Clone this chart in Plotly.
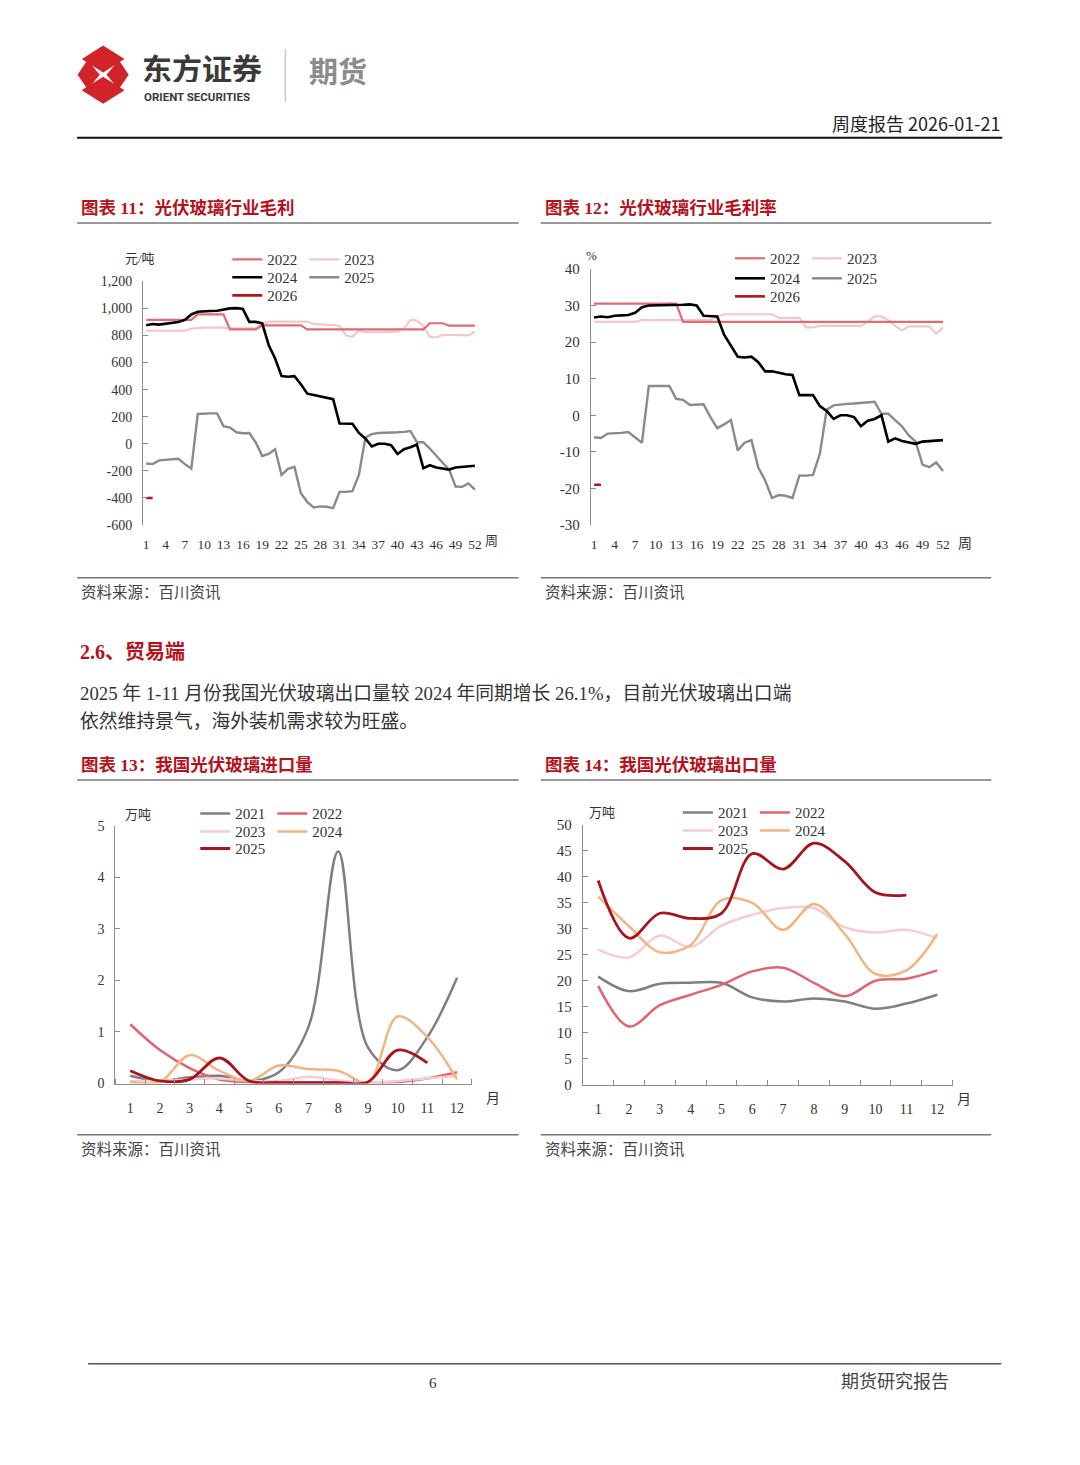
import plotly.graph_objects as go

W, H = 1080, 1465
# small calibration of the page capture (measured from a test render)
SX, OY, SY = 0.995, 9.0, 0.987
def X(px): return (px / SX) / W
def Y(py): return 1 - ((py - OY) / SY) / H

SERIF = "Liberation Serif, Noto Sans CJK SC, serif"
CJK = "Noto Sans CJK SC, sans-serif"
RED_TITLE = "#B5121B"

# ---------------- data ----------------
weeks = list(range(1, 53))
week_ticks = [1, 4, 7, 10, 13, 16, 19, 22, 25, 28, 31, 34, 37, 40, 43, 46, 49, 52]
week_ticktext = [str(w) for w in week_ticks]
months = list(range(1, 13))
month_ticktext = [str(m) for m in months]

# Chart 11: gross profit (yuan/ton)
gp_2022 = [915, 915, 915, 915, 915, 915, 915, 915, 955, 955,
           955, 955, 955, 845, 845, 845, 845, 845, 875, 875,
           875, 875, 875, 875, 875, 845, 845, 845, 845, 845,
           845, 845, 845, 845, 845, 845, 845, 845, 845, 845,
           845, 845, 845, 845, 890, 890, 890, 872, 872, 872,
           872, 872]
gp_2023 = [835, 835, 835, 835, 835, 835, 835, 850, 855, 858,
           858, 858, 858, 852, 852, 852, 852, 855, 885, 902,
           902, 902, 902, 902, 902, 902, 885, 880, 878, 878,
           870, 800, 790, 835, 825, 825, 825, 825, 825, 828,
           850, 915, 910, 870, 790, 785, 805, 805, 805, 805,
           800, 828]
gp_2024 = [875, 885, 880, 885, 895, 900, 915, 955, 975, 980,
           980, 982, 990, 1000, 1002, 995, 900, 900, 890, 730,
           630, 500, 495, 500, 440, 370, 360, 350, 340, 330,
           150, 150, 148, 80, 40, -20, 0, 0, -10, -75,
           -40, -25, -5, -180, -158, -175, -185, -190, -175, -172,
           -168, -162]
gp_2025 = [-145, -150, -122, -118, -115, -110, -150, -183, 220, 225,
           225, 225, 130, 120, 85, 78, 80, 10, -90, -75,
           -40, -230, -185, -170, -365, -430, -470, -462, -465, -475,
           -355, -355, -350, -230, 45, 72, 80, 82, 82, 85,
           88, 95, 12, 12, -35, -90, -140, -190, -315, -318,
           -292, -338]
gp_2026 = [-400, -400]
gp_yticks = [-600, -400, -200, 0, 200, 400, 600, 800, 1000, 1200]
gp_yticktext = ["-600", "-400", "-200", "0", "200", "400", "600", "800", "1,000", "1,200"]

# Chart 12: gross margin (%)
gm_2022 = [30.5, 30.5, 30.5, 30.5, 30.5, 30.5, 30.5, 30.5, 30.5, 30.5,
           30.5, 30.5, 30.5, 25.5, 25.5, 25.5, 25.5, 25.5, 25.5, 25.5,
           25.5, 25.5, 25.5, 25.5, 25.5, 25.5, 25.5, 25.5, 25.5, 25.5,
           25.5, 25.5, 25.5, 25.5, 25.5, 25.5, 25.5, 25.5, 25.5, 25.5,
           25.5, 25.5, 25.5, 25.5, 25.5, 25.5, 25.5, 25.5, 25.5, 25.5,
           25.5, 25.5]
gm_2023 = [25.5, 25.5, 25.5, 25.5, 25.5, 25.5, 25.5, 26.0, 26.0, 26.0,
           26.0, 26.0, 26.0, 26.0, 26.0, 26.0, 26.0, 26.0, 27.0, 27.6,
           27.6, 27.6, 27.6, 27.6, 27.6, 27.6, 27.6, 26.6, 26.6, 26.6,
           26.6, 24.0, 24.0, 24.4, 24.4, 24.4, 24.4, 24.4, 24.4, 24.4,
           25.5, 27.0, 27.0, 26.0, 24.5, 23.2, 24.3, 24.3, 24.3, 24.3,
           22.3, 24.0]
gm_2024 = [26.7, 27.0, 26.8, 27.2, 27.3, 27.4, 28.0, 29.5, 30.0, 30.0,
           30.0, 30.0, 30.2, 30.2, 30.3, 30.0, 27.2, 27.2, 27.0, 22.0,
           19.0, 16.0, 15.8, 16.0, 14.5, 12.0, 12.0, 11.5, 11.2, 11.0,
           5.5, 5.5, 5.5, 2.5, 1.2, -1.0, 0.0, 0.0, -0.5, -3.0,
           -1.5, -1.0, 0.0, -7.2, -6.3, -7.0, -7.5, -7.8, -7.2, -7.1,
           -7.0, -6.8]
gm_2025 = [-6.0, -6.2, -5.0, -5.0, -4.8, -4.6, -6.0, -7.5, 8.0, 8.0,
           8.0, 8.0, 4.5, 4.2, 2.8, 3.0, 3.0, -0.5, -3.5, -2.5,
           -1.3, -9.6, -7.5, -6.8, -14.3, -17.8, -22.6, -21.8, -22.0, -22.6,
           -16.5, -16.5, -16.3, -10.5, 1.5, 2.7, 3.0, 3.1, 3.2, 3.3,
           3.5, 3.7, 0.4, 0.4, -1.3, -3.0, -5.5, -7.2, -13.5, -14.2,
           -12.9, -15.2]
gm_2026 = [-19.0, -19.0]
gm_yticks = [-30, -20, -10, 0, 10, 20, 30, 40]
gm_yticktext = ["-30", "-20", "-10", "0", "10", "20", "30", "40"]

# Chart 13: imports (10k tons)
imp_2021 = [0.15, 0.05, 0.12, 0.15, 0.05, 0.22, 1.10, 4.50, 0.70, 0.26, 0.90, 2.05]
imp_2022 = [1.15, 0.65, 0.30, 0.08, 0.03, 0.02, 0.02, 0.02, 0.02, 0.03, 0.10, 0.22]
imp_2023 = [0.05, 0.05, 0.08, 0.10, 0.05, 0.05, 0.13, 0.06, 0.02, 0.05, 0.10, 0.15]
imp_2024 = [0.03, 0.03, 0.55, 0.25, 0.05, 0.35, 0.28, 0.25, 0.03, 1.30, 0.90, 0.08]
imp_2025 = [0.25, 0.05, 0.08, 0.50, 0.05, 0.02, 0.02, 0.02, 0.03, 0.65, 0.40]
imp_yticks = [0, 1, 2, 3, 4, 5]

# Chart 14: exports (10k tons)
exp_2021 = [20.8, 18.0, 19.4, 19.6, 19.6, 16.8, 16.0, 16.6, 16.0, 14.6, 15.6, 17.3]
exp_2022 = [19.0, 11.2, 15.3, 17.3, 19.2, 21.8, 22.5, 19.6, 17.0, 20.0, 20.4, 22.0]
exp_2023 = [26.0, 24.5, 28.7, 26.5, 30.6, 32.7, 34.0, 34.0, 30.3, 29.3, 29.8, 28.2]
exp_2024 = [36.2, 30.5, 25.5, 26.9, 35.5, 35.0, 29.8, 34.8, 29.0, 21.3, 22.0, 29.0]
exp_2025 = [39.3, 28.2, 33.0, 32.0, 33.0, 44.5, 41.5, 46.5, 43.0, 37.0, 36.5]
exp_yticks = [0, 5, 10, 15, 20, 25, 30, 35, 40, 45, 50]

# ---------------- styles ----------------
C22 = "#E06B74"
C23 = "#F4C6CC"
C24 = "#000000"
C25 = "#8A8A8A"
C26 = "#B5141D"
C21b = "#7F7F7F"
C22b = "#E2646E"
C23b = "#F4CCD2"
C24b = "#F0B583"
C25b = "#A9141C"

fig = go.Figure()

def add(x, y, name, color, width, xa, ya, legend, shape="linear"):
    fig.add_trace(go.Scatter(x=x[:len(y)], y=y, mode="lines", name=name,
                             line=dict(color=color, width=width, shape=shape),
                             xaxis=xa, yaxis=ya, legend=legend, legendrank=int(name),
                             hoverinfo="skip"))

# chart 11
add(weeks, gp_2023, "2023", C23, 2.2, "x", "y", "legend")
add(weeks, gp_2022, "2022", C22, 2.2, "x", "y", "legend")
add(weeks, gp_2025, "2025", C25, 2.4, "x", "y", "legend2")
add(weeks, gp_2024, "2024", C24, 2.6, "x", "y", "legend2")
add(weeks, gp_2026, "2026", C26, 2.6, "x", "y", "legend3")
# chart 12
add(weeks, gm_2023, "2023", C23, 2.2, "x2", "y2", "legend4")
add(weeks, gm_2022, "2022", C22, 2.2, "x2", "y2", "legend4")
add(weeks, gm_2025, "2025", C25, 2.4, "x2", "y2", "legend5")
add(weeks, gm_2024, "2024", C24, 2.6, "x2", "y2", "legend5")
add(weeks, gm_2026, "2026", C26, 2.6, "x2", "y2", "legend6")
# chart 13
add(months, imp_2021, "2021", C21b, 2.5, "x3", "y3", "legend7", "spline")
add(months, imp_2022, "2022", C22b, 2.5, "x3", "y3", "legend7", "spline")
add(months, imp_2023, "2023", C23b, 2.5, "x3", "y3", "legend8", "spline")
add(months, imp_2024, "2024", C24b, 2.5, "x3", "y3", "legend8", "spline")
add(months, imp_2025, "2025", C25b, 2.8, "x3", "y3", "legend9", "spline")
# chart 14
add(months, exp_2021, "2021", C21b, 2.5, "x4", "y4", "legend10", "spline")
add(months, exp_2022, "2022", C22b, 2.5, "x4", "y4", "legend10", "spline")
add(months, exp_2023, "2023", C23b, 2.5, "x4", "y4", "legend11", "spline")
add(months, exp_2024, "2024", C24b, 2.5, "x4", "y4", "legend11", "spline")
add(months, exp_2025, "2025", C25b, 2.8, "x4", "y4", "legend12", "spline")

AX = "#8C8C8C"

def xaxis_bottom(x0, x1, rng, tickvals, ticktext, standoff, anchor, line=False, minor=None, size=14):
    d = dict(domain=[X(x0), X(x1)], range=rng, tickmode="array", tickvals=tickvals,
             ticktext=ticktext, ticks="", showgrid=False, zeroline=False, anchor=anchor,
             showline=line, linecolor=AX, linewidth=1, ticklabelstandoff=standoff,
             tickfont=dict(family=SERIF, size=size, color="#333333"), fixedrange=True)
    if minor is not None:
        d["minor"] = dict(tickmode="array", tickvals=minor, ticks="inside", ticklen=5,
                          tickcolor=AX, tickwidth=1, showgrid=False)
    return d

def yaxis_left(y0, y1, rng, tickvals, ticktext, anchor, size=14):
    return dict(domain=[Y(y1), Y(y0)], range=rng, tickmode="array", tickvals=tickvals,
                ticktext=ticktext, ticks="inside", ticklen=5, tickcolor=AX, tickwidth=1,
                showline=True, linecolor=AX, linewidth=1, showgrid=False, zeroline=False,
                ticklabelstandoff=7, tickfont=dict(family=SERIF, size=size, color="#333333"),
                anchor=anchor, fixedrange=True)

week_bounds = [w + 0.5 for w in range(0, 53)]
month_bounds = [m + 0.5 for m in range(0, 13)]

# plot-area pixel boxes (x0, x1, y_top, y_bottom)
B11 = (142.8, 477.5, 281.7, 525.0)
B12 = (589.9, 945.2, 269.3, 525.0)
B13 = (115.2, 471.3, 825.0, 1082.3)
B14 = (582.0, 951.4, 824.3, 1083.3)

def zero_pos(box, rng):
    y_top, y_bot = Y(box[2]), Y(box[3])
    return y_bot + (0 - rng[0]) / (rng[1] - rng[0]) * (y_top - y_bot)

R11 = [-600, 1200]
R12 = [-30, 40]

def zero_axis(over, box, rng):
    return dict(overlaying=over, anchor="free", position=zero_pos(box, rng), range=[0.5, 52.5],
                tickmode="array", tickvals=week_bounds, ticks="inside", ticklen=6,
                tickcolor="#7A7A7A", tickwidth=1, showline=True, linecolor=AX, linewidth=1,
                showticklabels=False, showgrid=False, zeroline=False, side="bottom",
                fixedrange=True)

layout = dict(
    width=W, height=H, margin=dict(l=0, r=0, t=0, b=0), autosize=False,
    paper_bgcolor="white", plot_bgcolor="rgba(0,0,0,0)",
    font=dict(family=SERIF, color="#333333"),
    xaxis=xaxis_bottom(B11[0], B11[1], [0.5, 52.5], week_ticks, week_ticktext, 9, "y", size=13.5),
    yaxis=yaxis_left(B11[2], B11[3], R11, gp_yticks, gp_yticktext, "x"),
    xaxis2=xaxis_bottom(B12[0], B12[1], [0.5, 52.5], week_ticks, week_ticktext, 9, "y2", size=13.5),
    yaxis2=yaxis_left(B12[2], B12[3], R12, gm_yticks, gm_yticktext, "x2", size=15),
    xaxis3=xaxis_bottom(B13[0], B13[1], [0.5, 12.5], months, month_ticktext, 12, "y3", line=True, minor=month_bounds),
    yaxis3=yaxis_left(B13[2], B13[3], [0, 5], imp_yticks, [str(v) for v in imp_yticks], "x3"),
    xaxis4=xaxis_bottom(B14[0], B14[1], [0.5, 12.5], months, month_ticktext, 12, "y4", line=True, minor=month_bounds),
    yaxis4=yaxis_left(B14[2], B14[3], [0, 50], exp_yticks, [str(v) for v in exp_yticks], "x4", size=15),
    # zero lines with weekly ticks for charts 11 and 12
    xaxis5=zero_axis("x", B11, R11),
    xaxis6=zero_axis("x2", B12, R12),
)

def leg(xpx, ypx):
    return dict(x=X(xpx), y=Y(ypx), xanchor="left", yanchor="middle", orientation="h",
                font=dict(family=SERIF, size=15, color="#333333"), bgcolor="rgba(0,0,0,0)",
                borderwidth=0, entrywidth=32, entrywidthmode="pixels", traceorder="normal",
                itemclick=False, itemdoubleclick=False, tracegroupgap=0)

legend_rows = {
    "legend": (227, 260), "legend2": (227, 278), "legend3": (227, 296),
    "legend4": (729, 259), "legend5": (729, 279), "legend6": (729, 297),
    "legend7": (195, 813), "legend8": (195, 831), "legend9": (195, 848),
    "legend10": (677, 812), "legend11": (677, 830), "legend12": (677, 848),
}
for k, (lx, ly) in legend_rows.items():
    layout[k] = leg(lx, ly)

fig.update_layout(**layout)

# ---------------- page decorations ----------------
shapes = []
annos = []

def hline(x0, x1, y, color, width):
    shapes.append(dict(type="line", xref="paper", yref="paper", x0=X(x0), x1=X(x1),
                       y0=Y(y), y1=Y(y), line=dict(color=color, width=width)))

def text(x, y, s, size, color="#333333", family=CJK, anchor="left", bold=False, height=None):
    if bold:
        s = "<b>" + s + "</b>"
    a = dict(xref="paper", yref="paper", x=X(x), y=Y(y), text=s, showarrow=False,
             xanchor=anchor, yanchor="middle", font=dict(family=family, size=size, color=color))
    if height is not None:
        a["height"] = height
        a["valign"] = "middle"
    annos.append(a)

# logo: four diamonds separated by a white X
LOGO_RED = "#D2232A"
def poly(pts):
    path = "M " + " L ".join(f"{X(px)},{Y(py)}" for px, py in pts) + " Z"
    shapes.append(dict(type="path", xref="paper", yref="paper", path=path,
                       fillcolor=LOGO_RED, line=dict(color=LOGO_RED, width=2.5)))
poly([(84, 60), (103, 48), (122, 60), (103, 72)])
poly([(84, 91), (103, 79), (122, 91), (103, 103)])
poly([(79, 75.5), (87.5, 63), (98, 75.5), (87.5, 88)])
poly([(127, 75.5), (118.5, 63), (108, 75.5), (118.5, 88)])
text(140, 68, "东方证券", 30, "#3A3A3A", CJK, bold=True, height=30)
text(142, 97, "ORIENT SECURITIES", 11.5, "#3A3A3A", "Roboto, Arial, sans-serif", bold=True, height=13)
shapes.append(dict(type="line", xref="paper", yref="paper", x0=X(285), x1=X(285),
                   y0=Y(50), y1=Y(103), line=dict(color="#C8C8C8", width=1.5)))
text(307, 71, "期货", 29, "#8C8C8C", CJK, bold=True)

text(1001, 124, "周度报告 2026-01-21", 18, "#222222", CJK, anchor="right")
hline(77, 1001, 138.5, "#111111", 2)

# chart titles and frames
text(79, 209, "图表 11：光伏玻璃行业毛利", 17.5, RED_TITLE, SERIF, bold=True)
text(542, 209, "图表 12：光伏玻璃行业毛利率", 17.5, RED_TITLE, SERIF, bold=True)
hline(77, 518, 223.5, "#777777", 1.5)
hline(540, 990, 223.5, "#777777", 1.5)
hline(77, 518, 577.5, "#777777", 1.5)
hline(540, 990, 577.5, "#777777", 1.5)
text(79, 592, "资料来源：百川资讯", 15.5, "#444444", SERIF)
text(542, 592, "资料来源：百川资讯", 15.5, "#444444", SERIF)

text(78, 652, "2.6、贸易端", 20, RED_TITLE, SERIF, bold=True)
text(78, 693, "2025 年 1-11 月份我国光伏玻璃出口量较 2024 年同期增长 26.1%，目前光伏玻璃出口端",
     18.8, "#333333", SERIF)
text(78, 721, "依然维持景气，海外装机需求较为旺盛。", 18.8, "#333333", SERIF)

text(79, 764, "图表 13：我国光伏玻璃进口量", 17.5, RED_TITLE, SERIF, bold=True)
text(542, 764, "图表 14：我国光伏玻璃出口量", 17.5, RED_TITLE, SERIF, bold=True)
hline(77, 518, 779.5, "#777777", 1.5)
hline(540, 990, 779.5, "#777777", 1.5)
hline(77, 518, 1133.5, "#777777", 1.5)
hline(540, 990, 1133.5, "#777777", 1.5)
text(79, 1148, "资料来源：百川资讯", 15.5, "#444444", SERIF)
text(542, 1148, "资料来源：百川资讯", 15.5, "#444444", SERIF)

# axis unit labels
text(140, 259, "元/吨", 13, "#333333", SERIF, anchor="center")
text(591, 256, "%", 13, "#333333", SERIF, anchor="center")
text(491, 540, "周", 13, "#333333", SERIF, anchor="center")
text(964, 543, "周", 14, "#333333", SERIF, anchor="center")
text(138, 814, "万吨", 13, "#333333", SERIF, anchor="center")
text(601, 812, "万吨", 13, "#333333", SERIF, anchor="center")
text(492, 1097, "月", 14, "#333333", SERIF, anchor="center")
text(963, 1098, "月", 14, "#333333", SERIF, anchor="center")

# footer
hline(88, 1000, 1362, "#555555", 1.5)
text(432, 1381, "6", 15, "#333333", SERIF, anchor="center")
text(950, 1380, "期货研究报告", 18, "#444444", SERIF, anchor="right")

fig.update_layout(shapes=shapes, annotations=annos)
fig.write_html("out.html", config={"displayModeBar": False, "staticPlot": False},
               post_script="document.body.style.margin='0';document.body.style.padding='0';"
                           "document.documentElement.style.overflow='hidden';")
